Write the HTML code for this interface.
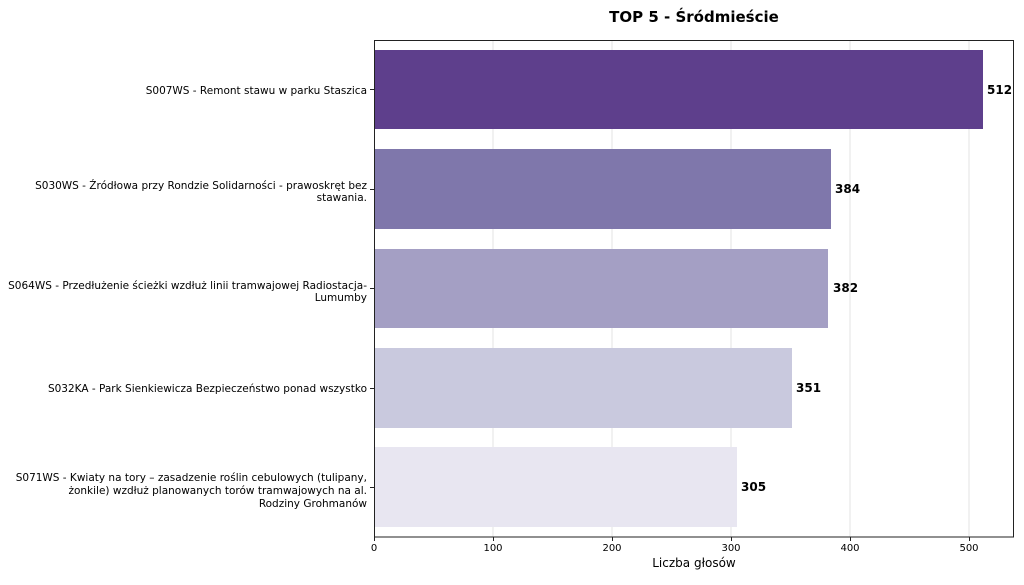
<!DOCTYPE html>
<html><head><meta charset="utf-8"><style>
body{margin:0;background:#fff;}
svg text{font-family:"DejaVu Sans","Liberation Sans",sans-serif;}
</style></head><body>
<svg width="1024" height="580" xmlns="http://www.w3.org/2000/svg">
<rect width="1024" height="580" fill="#fff"/>
<text x="694" y="22" font-size="15" font-weight="bold" text-anchor="middle">TOP 5 - Śródmieście</text>
<g stroke="#e3e3e3" stroke-width="1">
<line x1="493" y1="40" x2="493" y2="537"/><line x1="612" y1="40" x2="612" y2="537"/>
<line x1="731" y1="40" x2="731" y2="537"/><line x1="850" y1="40" x2="850" y2="537"/>
<line x1="969" y1="40" x2="969" y2="537"/>
</g>
<rect x="374" y="50" width="609" height="79" fill="#5e3f8c"/>
<rect x="374" y="149" width="457" height="80" fill="#7f77ab"/>
<rect x="374" y="249" width="454" height="79" fill="#a49fc4"/>
<rect x="374" y="348" width="418" height="80" fill="#c9c9de"/>
<rect x="374" y="447" width="363" height="80" fill="#e8e6f1"/>
<rect x="374.5" y="40.5" width="639" height="496.5" fill="none" stroke="#222" stroke-width="1"/>
<g font-size="12" font-weight="bold">
<text x="987" y="94">512</text><text x="835" y="193">384</text><text x="833" y="292">382</text>
<text x="796" y="392">351</text><text x="741" y="491">305</text>
</g>
<g font-size="10.5" text-anchor="end">
<text x="367" y="94">S007WS - Remont stawu w parku Staszica</text>
<text x="367" y="189">S030WS - Źródłowa przy Rondzie Solidarności - prawoskręt bez</text>
<text x="367" y="201">stawania.</text>
<text x="367" y="289">S064WS - Przedłużenie ścieżki wzdłuż linii tramwajowej Radiostacja-</text>
<text x="367" y="301">Lumumby</text>
<text x="367" y="392">S032KA - Park Sienkiewicza Bezpieczeństwo ponad wszystko</text>
<text x="367" y="481">S071WS - Kwiaty na tory – zasadzenie roślin cebulowych (tulipany,</text>
<text x="367" y="494">żonkile) wzdłuż planowanych torów tramwajowych na al.</text>
<text x="367" y="507">Rodziny Grohmanów</text>
</g>
<g stroke="#222"><line x1="370" y1="89.5" x2="374" y2="89.5"/><line x1="370" y1="189.5" x2="374" y2="189.5"/><line x1="370" y1="288.5" x2="374" y2="288.5"/><line x1="370" y1="388.5" x2="374" y2="388.5"/><line x1="370" y1="487.5" x2="374" y2="487.5"/>
<line x1="374.5" y1="537" x2="374.5" y2="541"/><line x1="493.5" y1="537" x2="493.5" y2="541"/><line x1="612.5" y1="537" x2="612.5" y2="541"/><line x1="731.5" y1="537" x2="731.5" y2="541"/><line x1="850.5" y1="537" x2="850.5" y2="541"/><line x1="969.5" y1="537" x2="969.5" y2="541"/></g>
<g font-size="10" text-anchor="middle">
<text x="374" y="551">0</text><text x="493" y="551">100</text><text x="612" y="551">200</text>
<text x="731" y="551">300</text><text x="850" y="551">400</text><text x="969" y="551">500</text>
</g>
<text x="694" y="567" font-size="12" text-anchor="middle">Liczba głosów</text>
</svg>
</body></html>
